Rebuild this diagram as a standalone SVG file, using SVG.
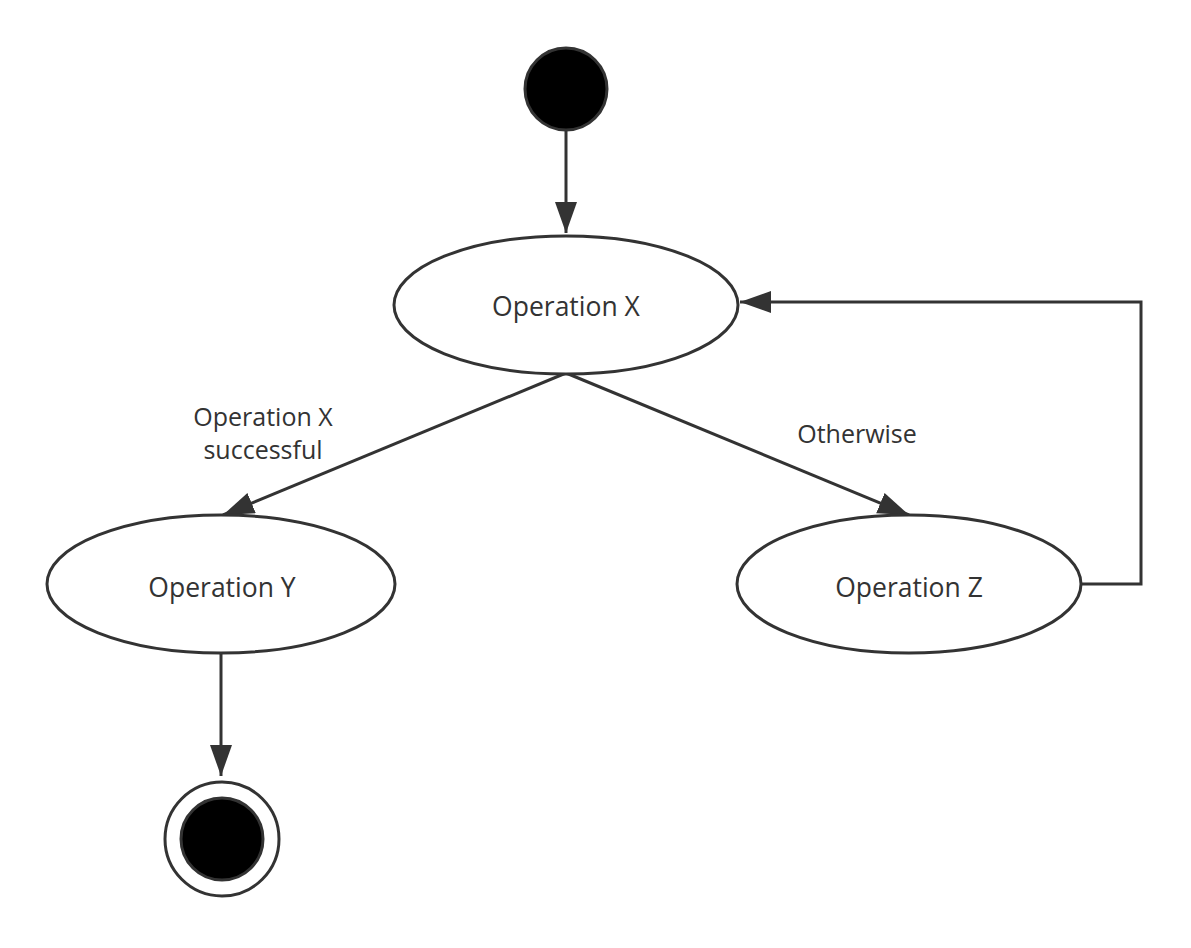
<svg xmlns="http://www.w3.org/2000/svg" width="1191" height="948" viewBox="0 0 1191 948">
<style>
.shape{fill:#fff;stroke:#333;stroke-width:3}
.conn{fill:none;stroke:#333;stroke-width:3}
.lbl{font-family:"Open Sans","Noto Sans",sans-serif;font-size:25px;fill:#333;text-anchor:middle}
.nt{font-size:26.5px}
</style>
<defs>
<marker id="arr" markerUnits="userSpaceOnUse" markerWidth="34" markerHeight="24" refX="31" refY="11" orient="auto">
<path d="M0,0 L31,11 L0,22 Z" fill="#333"/>
</marker>
</defs>
<rect width="1191" height="948" fill="#fff"/>
<g id="connectors">
<path class="conn" d="M566,130 V233" marker-end="url(#arr)"/>
<path class="conn" d="M566,373 L223,515" marker-end="url(#arr)"/>
<path class="conn" d="M566,373 L909,515" marker-end="url(#arr)"/>
<path class="conn" d="M1081,584 H1141 V302 H740" marker-end="url(#arr)"/>
<path class="conn" d="M221,653 V776" marker-end="url(#arr)"/>
</g>
<g id="start"><circle cx="566" cy="89" r="41" fill="#000" stroke="#333" stroke-width="3"/></g>
<g id="opX"><ellipse class="shape" cx="566" cy="305" rx="172" ry="69"/><text class="lbl nt" x="566" y="316">Operation X</text></g>
<g id="opY"><ellipse class="shape" cx="221" cy="584" rx="174" ry="69"/><text class="lbl nt" x="222" y="597">Operation Y</text></g>
<g id="opZ"><ellipse class="shape" cx="909" cy="584" rx="172" ry="69"/><text class="lbl nt" x="909" y="597">Operation Z</text></g>
<g id="end"><circle cx="222" cy="839" r="57" fill="#fff" stroke="#333" stroke-width="3"/><circle cx="222" cy="839" r="41" fill="#000" stroke="#333" stroke-width="3"/></g>
<g id="labels">
<text class="lbl" x="263" y="426">Operation X</text>
<text class="lbl" x="263" y="459">successful</text>
<text class="lbl" x="857" y="443">Otherwise</text>
</g>
</svg>
